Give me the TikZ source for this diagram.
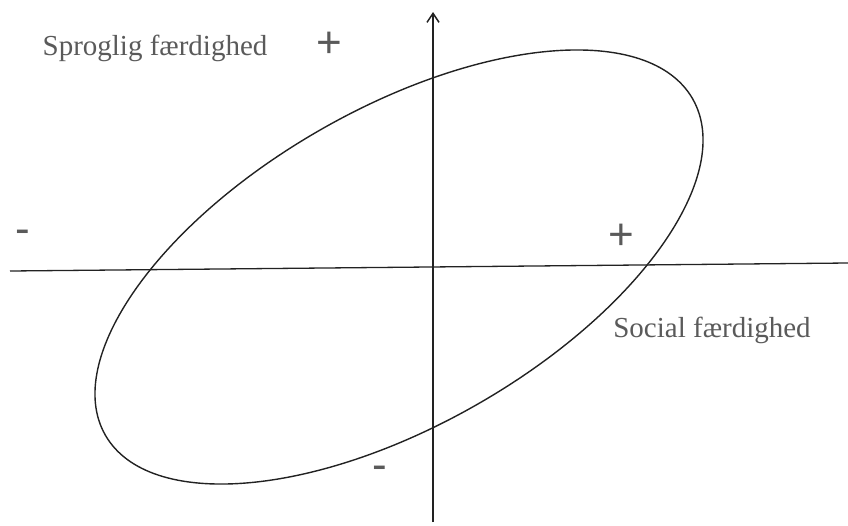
\documentclass[tikz,border=0pt]{standalone}
\usepackage{fontspec}
\setmainfont{Liberation Serif}
\newfontfamily\signfont{Liberation Sans}
\usetikzlibrary{arrows.meta,shapes.geometric}
\definecolor{txtgray}{HTML}{5A5A5A}
\definecolor{linegray}{HTML}{222222}
\tikzset{
  axisline/.style={draw=linegray, line width=1.3pt},
  lbl/.style={text=txtgray, font=\fontsize{29}{34}\selectfont, inner sep=0pt},
  sign/.style={text=txtgray, font=\signfont\fontsize{44}{50}\selectfont, inner sep=0pt},
  oval/.style={draw=linegray, line width=1.4pt, ellipse, inner sep=0pt}
}
\begin{document}
\begin{tikzpicture}[x=1pt,y=-1pt]
\useasboundingbox (0,0) rectangle (848,525);
\coordinate (hl) at (10,271);
\coordinate (hr) at (848,263);
\coordinate (vb) at (433,522);
\coordinate (vt) at (433,12);
\node[oval, minimum width=676.8pt, minimum height=316.2pt, rotate=29.8] (ell) at (399,267) {};
\draw[axisline] (hl) -- (hr);
\draw[axisline, -{Straight Barb[length=9pt,width=12pt,line width=1.5pt]}] (vb) -- (vt);
\node[lbl] (sprog) at (155,48) {Sproglig færdighed};
\node[lbl] (social) at (712,330) {Social færdighed};
\node[sign] (ptop) at (329,45) {+};
\node[sign] (pright) at (621,237) {+};
\node[sign] (mleft) at (23,237) {-};
\node[sign] (mbot) at (380,473) {-};
\end{tikzpicture}
\end{document}
